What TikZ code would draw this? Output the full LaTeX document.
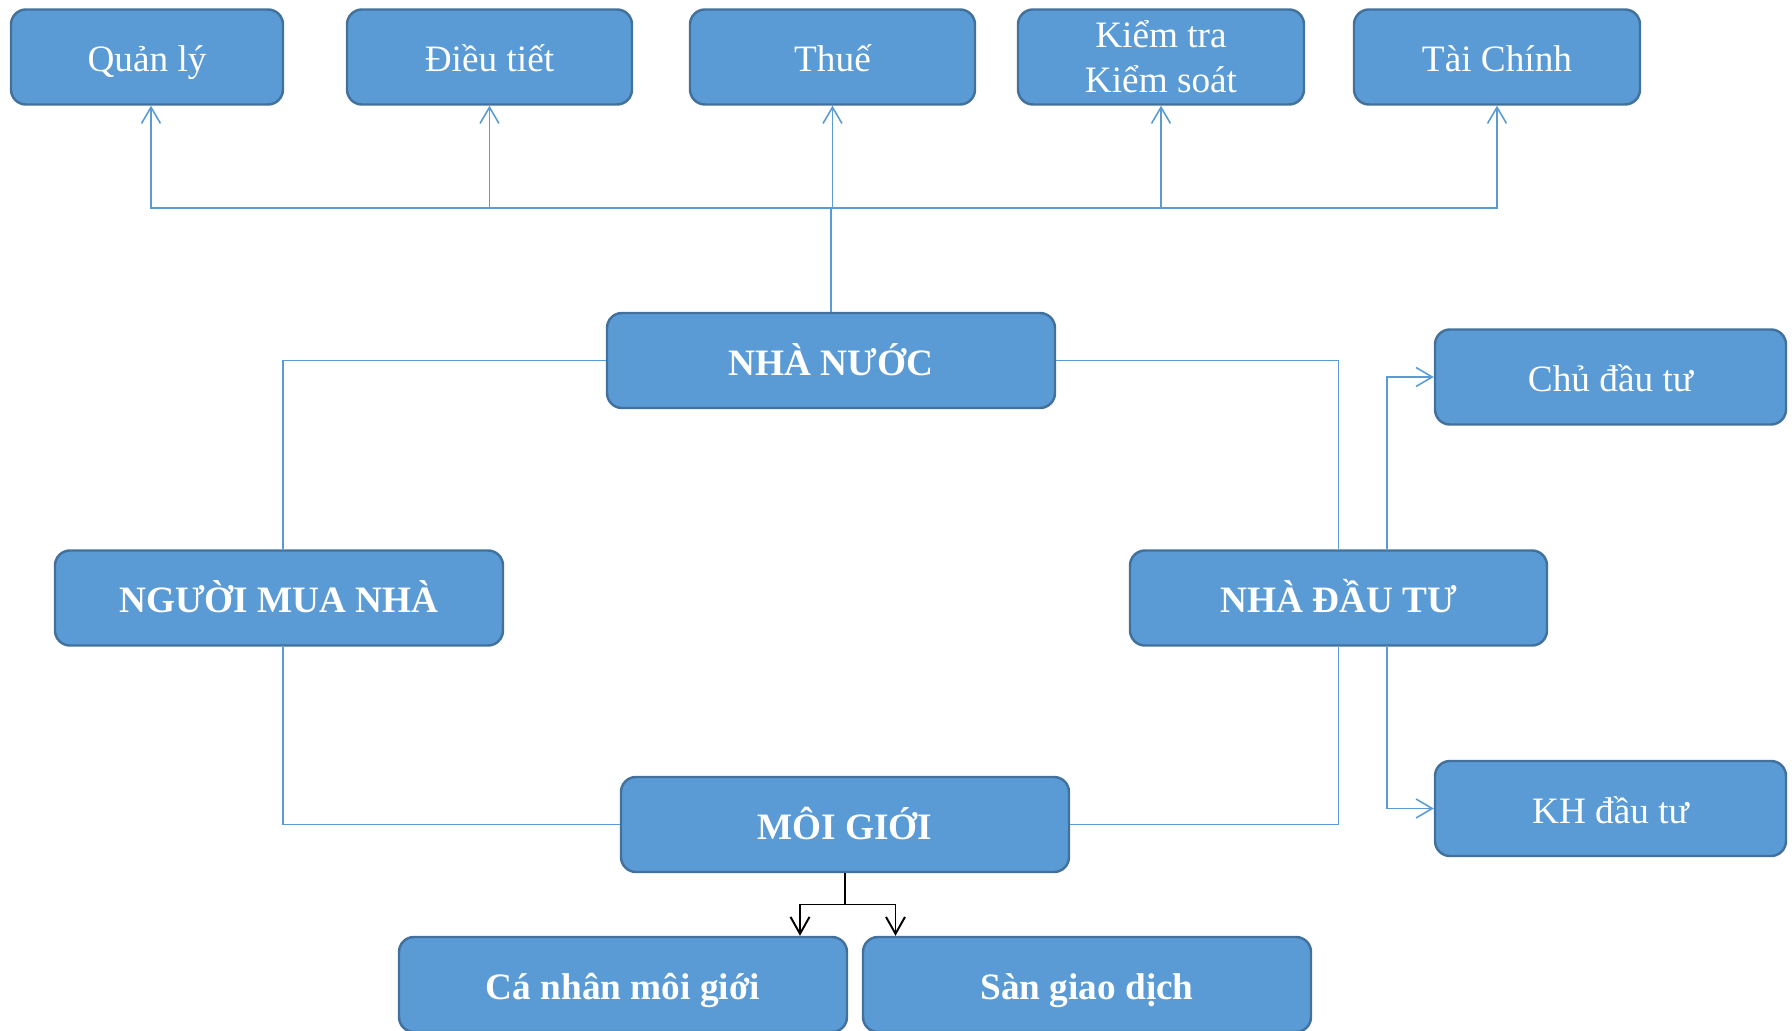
\documentclass[tikz,border=0pt]{standalone}
\usepackage{fontspec}
\setmainfont{Liberation Serif}
\usetikzlibrary{arrows.meta}
\definecolor{hopxanh}{HTML}{5B9BD5}
\definecolor{vienxanh}{HTML}{41719C}

\begin{document}
\begin{tikzpicture}[
		hop/.style={draw=vienxanh, line width=0.7pt, fill=hopxanh, rounded corners=0.15cm, text=white, align=center, inner sep=0pt, minimum height=0.95cm, text height=2.1ex, text depth=0.3ex, font=\fontsize{10.6}{12.7}\selectfont},
		hopdam/.style={hop, font=\fontsize{10.6}{12.7}\selectfont\bfseries},
		noi/.style={draw=hopxanh, line width=0.45pt},
		muiten/.style={noi, -{Straight Barb[length=4.6pt,width=5.4pt]}},
		muitenden/.style={draw=black, line width=0.55pt, -{Straight Barb[length=4.8pt,width=5.4pt]}}
	]
		% Khung hình
		\clip (0,0) rectangle (17.92,10.30);
		
		% Chức năng của nhà nước
		\node[hop, minimum width=2.72cm] (quanly) at (1.47,9.73) {Quản lý};
		\node[hop, minimum width=2.85cm] (dieutiet) at (4.895,9.73) {Điều tiết};
		\node[hop, minimum width=2.85cm] (thue) at (8.325,9.73) {Thuế};
		\node[hop, minimum width=2.86cm, text height=, text depth=] (kiemtra) at (11.61,9.73) {Kiểm tra\\Kiểm soát};
		\node[hop, minimum width=2.86cm] (taichinh) at (14.97,9.73) {Tài Chính};
		
		% Các bên chính
		\node[hopdam, minimum width=4.48cm] (nhanuoc) at (8.31,6.695) {NHÀ NƯỚC};
		\node[hopdam, minimum width=4.48cm] (nguoimua) at (2.79,4.32) {NGƯỜI MUA NHÀ};
		\node[hopdam, minimum width=4.17cm] (nhadautu) at (13.385,4.32) {NHÀ ĐẦU TƯ};
		\node[hopdam, minimum width=4.48cm] (moigioi) at (8.45,2.055) {MÔI GIỚI};
		
		% Nhà đầu tư
		\node[hop, minimum width=3.51cm] (chudautu) at (16.105,6.53) {Chủ đầu tư};
		\node[hop, minimum width=3.51cm] (khdautu) at (16.105,2.215) {KH đầu tư};
		
		% Môi giới
		\node[hopdam, minimum width=4.48cm] (canhan) at (6.23,0.455) {Cá nhân môi giới};
		\node[hopdam, minimum width=4.48cm] (san) at (10.87,0.455) {Sàn giao dịch};
		
		% Nhà nước -> chức năng
		\coordinate (truc) at (8.31,8.22);
		\draw[noi] (nhanuoc.north) -- (truc);
		\draw[muiten] (truc) -| ([xshift=0.04cm]quanly.south);
		\foreach \cn in {dieutiet,thue,kiemtra,taichinh}
			\draw[muiten] (truc) -| (\cn.south);
		
		% Vòng liên kết
		\draw[noi] (nhanuoc.west) -| ([xshift=0.04cm]nguoimua.north);
		\draw[noi] (nhanuoc.east) -| (nhadautu.north);
		\draw[noi] (moigioi.west) -| ([xshift=0.04cm]nguoimua.south);
		\draw[noi] (moigioi.east) -| (nhadautu.south);
		
		% Nhà đầu tư -> chủ đầu tư, KH đầu tư
		\draw[muiten] ([xshift=0.485cm]nhadautu.north) |- (chudautu.west);
		\draw[muiten] ([xshift=0.485cm]nhadautu.south) |- (khdautu.west);
		
		% Môi giới -> cá nhân, sàn
		\coordinate (re) at (8.45,1.255);
		\draw[line width=0.55pt] (moigioi.south) -- (re);
		\draw[muitenden] (re) -| ([xshift=1.77cm]canhan.north);
		\draw[muitenden] (re) -| ([xshift=-1.915cm]san.north);
	\end{tikzpicture}
\end{document}
